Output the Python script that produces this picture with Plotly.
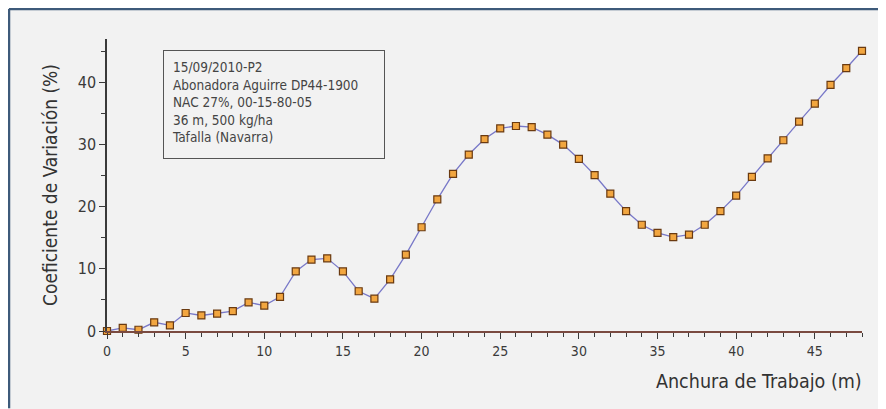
import plotly.graph_objects as go

anchura = list(range(0, 49))
cv = [0.0, 0.5, 0.2, 1.4, 0.9, 2.9, 2.5, 2.8, 3.2, 4.6,
      4.1, 5.5, 9.6, 11.5, 11.7, 9.6, 6.4, 5.2, 8.3, 12.3,
      16.7, 21.2, 25.3, 28.4, 30.9, 32.6, 33.0, 32.8, 31.6, 30.0,
      27.7, 25.1, 22.1, 19.3, 17.1, 15.8, 15.1, 15.5, 17.1, 19.3,
      21.8, 24.8, 27.8, 30.7, 33.7, 36.6, 39.6, 42.3, 45.1]

x_ticks = [0, 5, 10, 15, 20, 25, 30, 35, 40, 45]
y_ticks = [0, 10, 20, 30, 40]

info_lines = ["15/09/2010-P2", "Abonadora Aguirre DP44-1900",
              "NAC 27%, 00-15-80-05", "36 m, 500 kg/ha", "Tafalla (Navarra)"]

FONT = "DejaVu Sans Condensed, Liberation Sans Narrow, Roboto, sans-serif"
TXT = "#3a3a3a"

fig = go.Figure()
fig.add_trace(go.Scatter(
    x=anchura, y=cv, mode="lines+markers",
    line=dict(color="#7878c8", width=1.3),
    marker=dict(symbol="square", size=7, color="#f2a640",
                line=dict(color="#6a3a10", width=1.2)),
    showlegend=False, cliponaxis=False))

# page body has an 8px margin, so figure origin is at (8,8) of the window
W, H = 878, 401
L, R, T, B = 99, 24, 31, 77.5
pw, ph = W - L - R, H - T - B

def px(x):
    return (x - L) / pw

def py(y):
    return (H - B - y) / ph

fig.update_layout(
    width=W, height=H,
    margin=dict(l=L, r=R, t=T, b=B, pad=0, autoexpand=False),
    paper_bgcolor="#f2f2f2", plot_bgcolor="#f2f2f2",
    font=dict(family=FONT, color=TXT),
    xaxis=dict(range=[0, 48], showgrid=False, zeroline=False, automargin=False,
               showline=True, linecolor="#7a4a40", linewidth=1.5,
               ticks="outside", ticklen=6, tickwidth=1.2, tickcolor="#3a3a3a",
               tickvals=x_ticks, ticktext=[str(v) for v in x_ticks],
               tickfont=dict(size=14, color=TXT),
               minor=dict(dtick=1, ticks="outside", ticklen=4, tickcolor="#3a3a3a", tickwidth=1.2, showgrid=False)),
    yaxis=dict(range=[0, 47], showgrid=False, zeroline=False, automargin=False,
               showline=True, linecolor="#3a3a3a", linewidth=1.5,
               ticks="outside", ticklen=6, tickwidth=1.2, tickcolor="#3a3a3a",
               tickvals=y_ticks, ticktext=[str(v) for v in y_ticks],
               tickfont=dict(size=16, color=TXT),
               minor=dict(dtick=5, ticks="outside", ticklen=4, tickcolor="#3a3a3a", tickwidth=1.2, showgrid=False)),
)

# y axis title
fig.add_annotation(xref="paper", yref="paper", x=px(42), y=0.5,
                   xanchor="center", yanchor="middle", showarrow=False, textangle=-90,
                   text="Coeficiente de Variación (%)", font=dict(size=19, color="#333333", family=FONT))

# x axis title at the right
fig.add_annotation(xref="paper", yref="paper", x=px(856), y=py(374),
                   xanchor="right", yanchor="middle", showarrow=False,
                   text="Anchura de Trabajo (m)", font=dict(size=19.5, color="#333333", family=FONT))

# info box
fig.add_annotation(xref="paper", yref="paper", x=px(155), y=py(42),
                   xanchor="left", yanchor="top", showarrow=False, align="left", valign="top",
                   text="<br>".join(info_lines), font=dict(size=13.5, color="#444444", family=FONT),
                   bordercolor="#555555", borderwidth=1, borderpad=8, width=204, height=91)

# outer frame (top and left edges)
fig.add_shape(type="line", xref="paper", yref="paper",
              x0=px(1), x1=px(W), y0=py(1), y1=py(1),
              line=dict(color="#3d5a7a", width=2.5))
fig.add_shape(type="line", xref="paper", yref="paper",
              x0=px(1), x1=px(1), y0=py(1), y1=py(H),
              line=dict(color="#3d5a7a", width=2.5))

fig.write_html("out.html")
